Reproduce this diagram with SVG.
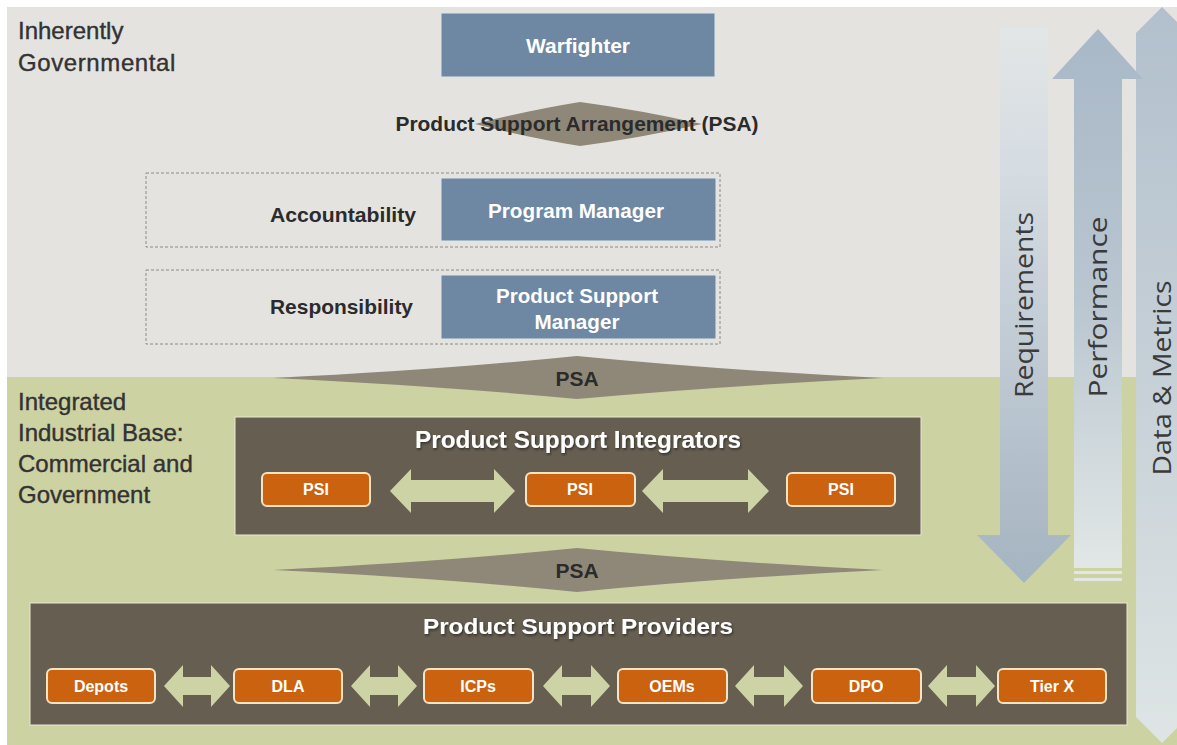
<svg xmlns="http://www.w3.org/2000/svg" width="1177" height="745" viewBox="0 0 1177 745">
<defs>
<style>
.lbl{font-family:"Liberation Sans",Arial,sans-serif;fill:#333;font-size:24px;stroke:#333;stroke-width:0.4}
.bold{font-family:"Liberation Sans",Arial,sans-serif;font-weight:bold}
.blue{fill:#6e87a2;stroke:#dfe6ea;stroke-width:1}
.bt{fill:#fff;font-size:21px;text-anchor:middle}
.dk{font-size:21px;fill:#2b2b2b;text-anchor:middle}
.dash{fill:none;stroke:#8a8a88;stroke-width:1;stroke-dasharray:3 2}
.psa{fill:#8f8878}
.brown{fill:#665e50;stroke:#e8e6d6;stroke-width:1}
.org{fill:#cb620f;stroke:#f5e3c2;stroke-width:2}
.ot{fill:#fff;font-size:16px;text-anchor:middle}
.garr{fill:#cdd3a5}
.side{font-family:"Open Sans","Liberation Sans",sans-serif;font-size:26px;fill:#3a3a3a;text-anchor:middle}
</style>
<filter id="sh" x="-10%" y="-30%" width="120%" height="160%">
<feDropShadow dx="1" dy="1.5" stdDeviation="1" flood-color="#1a1a1a" flood-opacity="0.7"/>
</filter>
<linearGradient id="gReq" x1="0" y1="0" x2="0" y2="1">
<stop offset="0" stop-color="#e3e6e6"/>
<stop offset="0.25" stop-color="#d5dce2"/>
<stop offset="1" stop-color="#a5b4c1"/>
</linearGradient>
<linearGradient id="gPerf" x1="0" y1="0" x2="0" y2="1">
<stop offset="0" stop-color="#a9b8c8"/>
<stop offset="0.5" stop-color="#b9c6d0"/>
<stop offset="1" stop-color="#e2e7e6"/>
</linearGradient>
<linearGradient id="gData" x1="0" y1="0" x2="0" y2="1">
<stop offset="0" stop-color="#b2c0cd"/>
<stop offset="0.5" stop-color="#c6d0d7"/>
<stop offset="1" stop-color="#dfe5e5"/>
</linearGradient>
</defs>

<rect width="1177" height="745" fill="#ffffff"/>
<rect x="7" y="7" width="1170" height="371" fill="#e4e3df"/>
<rect x="7" y="377" width="1170" height="368" fill="#cdd2a3"/>

<g id="zone-labels">
<text class="lbl" x="18" y="39">Inherently</text>
<text class="lbl" x="18" y="71" letter-spacing="0.6">Governmental</text>
<text class="lbl" x="18" y="410">Integrated</text>
<text class="lbl" x="18" y="441">Industrial Base:</text>
<text class="lbl" x="18" y="472">Commercial and</text>
<text class="lbl" x="18" y="503">Government</text>
</g>

<g id="side-arrows">
<path d="M1136,33 L1162,7 L1188,33 L1188,717 L1162,743 L1136,717 Z" fill="url(#gData)"/>
<path d="M1000,28 L1048,28 L1048,535 L1071,535 L1024,583 L977,535 L1000,535 Z" fill="url(#gReq)"/>
<path d="M1074,568 L1074,79 L1052,79 L1098,29 L1143,79 L1122,79 L1122,568 Z" fill="url(#gPerf)"/>
<rect x="1074" y="571" width="48" height="3" fill="#e2e7e6"/>
<rect x="1074" y="578" width="48" height="3" fill="#e2e7e6"/>
<text class="side" transform="translate(1033,305) rotate(-90)" textLength="186" lengthAdjust="spacingAndGlyphs">Requirements</text>
<text class="side" transform="translate(1107,307) rotate(-90)" textLength="181" lengthAdjust="spacingAndGlyphs">Performance</text>
<text class="side" transform="translate(1171,378) rotate(-90)" textLength="195" lengthAdjust="spacingAndGlyphs">Data &amp; Metrics</text>
</g>

<g id="warfighter">
<rect class="blue" x="441" y="13" width="274" height="64"/>
<text class="bold bt" x="578" y="53" textLength="104">Warfighter</text>
</g>

<g id="psa-top">
<path class="psa" d="M475,124 Q530,110 580,102 Q640,110 702,124 Q640,138 580,146 Q530,138 475,124 Z"/>
<text class="bold dk" x="577" y="131" textLength="363" lengthAdjust="spacingAndGlyphs">Product Support Arrangement (PSA)</text>
</g>

<g id="accountability">
<rect class="dash" x="146" y="173" width="574" height="74"/>
<rect class="blue" x="441" y="178" width="275" height="63"/>
<text class="bold dk" x="416" y="222" text-anchor="end" style="text-anchor:end" textLength="146" lengthAdjust="spacingAndGlyphs">Accountability</text>
<text class="bold bt" x="576" y="218" textLength="176" lengthAdjust="spacingAndGlyphs">Program Manager</text>
</g>

<g id="responsibility">
<rect class="dash" x="146" y="270" width="574" height="74"/>
<rect class="blue" x="441" y="275" width="275" height="64"/>
<text class="bold dk" x="413" y="314" style="text-anchor:end" textLength="143" lengthAdjust="spacingAndGlyphs">Responsibility</text>
<text class="bold bt" x="577" y="303" textLength="162" lengthAdjust="spacingAndGlyphs">Product Support</text>
<text class="bold bt" x="577" y="329" textLength="85" lengthAdjust="spacingAndGlyphs">Manager</text>
</g>

<g id="psa-mid">
<path class="psa" d="M273,378 Q440,370 577,356 Q720,370 883,378 Q720,386 577,399 Q440,386 273,378 Z"/>
<text class="bold dk" x="577" y="386" font-size="20">PSA</text>
</g>

<g id="integrators">
<rect class="brown" x="235" y="417" width="686" height="118"/>
<text class="bold bt" x="578" y="448" font-size="23" style="font-size:23px" textLength="326" lengthAdjust="spacingAndGlyphs" filter="url(#sh)">Product Support Integrators</text>
</g>

<g id="psi-1"><rect class="org" x="262" y="473" width="108" height="33" rx="5"/><text class="bold ot" x="316" y="495">PSI</text></g>
<g id="psi-2"><rect class="org" x="526" y="473" width="109" height="33" rx="5"/><text class="bold ot" x="580" y="495">PSI</text></g>
<g id="psi-3"><rect class="org" x="787" y="473" width="108" height="33" rx="5"/><text class="bold ot" x="841" y="495">PSI</text></g>

<g id="psa-low">
<path class="psa" d="M273,570 Q440,562 577,548 Q720,562 883,570 Q720,578 577,592 Q440,578 273,570 Z"/>
<text class="bold dk" x="577" y="578" font-size="20">PSA</text>
</g>

<g id="providers">
<rect class="brown" x="30" y="603" width="1097" height="122"/>
<text class="bold bt" x="578" y="634" style="font-size:22px" textLength="310" lengthAdjust="spacingAndGlyphs" filter="url(#sh)">Product Support Providers</text>
</g>

<g id="depots"><rect class="org" x="47" y="669" width="108" height="34" rx="5"/><text class="bold ot" x="101" y="692">Depots</text></g>
<g id="dla"><rect class="org" x="234" y="669" width="108" height="34" rx="5"/><text class="bold ot" x="288" y="692">DLA</text></g>
<g id="icps"><rect class="org" x="424" y="669" width="109" height="34" rx="5"/><text class="bold ot" x="478" y="692">ICPs</text></g>
<g id="oems"><rect class="org" x="618" y="669" width="109" height="34" rx="5"/><text class="bold ot" x="672" y="692">OEMs</text></g>
<g id="dpo"><rect class="org" x="812" y="669" width="109" height="34" rx="5"/><text class="bold ot" x="866" y="692">DPO</text></g>
<g id="tierx"><rect class="org" x="998" y="669" width="108" height="34" rx="5"/><text class="bold ot" x="1052" y="692">Tier X</text></g>

<g id="connectors">
<path class="garr" d="M390,491 L411,469 L411,480 L494,480 L494,469 L515,491 L494,513 L494,502 L411,502 L411,513 Z"/>
<path class="garr" d="M642,491 L663,469 L663,480 L748,480 L748,469 L769,491 L748,513 L748,502 L663,502 L663,513 Z"/>
<path class="garr" d="M164,686 L183,665 L183,677 L211,677 L211,665 L230,686 L211,707 L211,695 L183,695 L183,707 Z"/>
<path class="garr" d="M351,686 L370,665 L370,677 L398,677 L398,665 L417,686 L398,707 L398,695 L370,695 L370,707 Z"/>
<path class="garr" d="M543,686 L562,665 L562,677 L591,677 L591,665 L610,686 L591,707 L591,695 L562,695 L562,707 Z"/>
<path class="garr" d="M735,686 L754,665 L754,677 L784,677 L784,665 L803,686 L784,707 L784,695 L754,695 L754,707 Z"/>
<path class="garr" d="M928,686 L947,665 L947,677 L976,677 L976,665 L995,686 L976,707 L976,695 L947,695 L947,707 Z"/>
</g>
</svg>
